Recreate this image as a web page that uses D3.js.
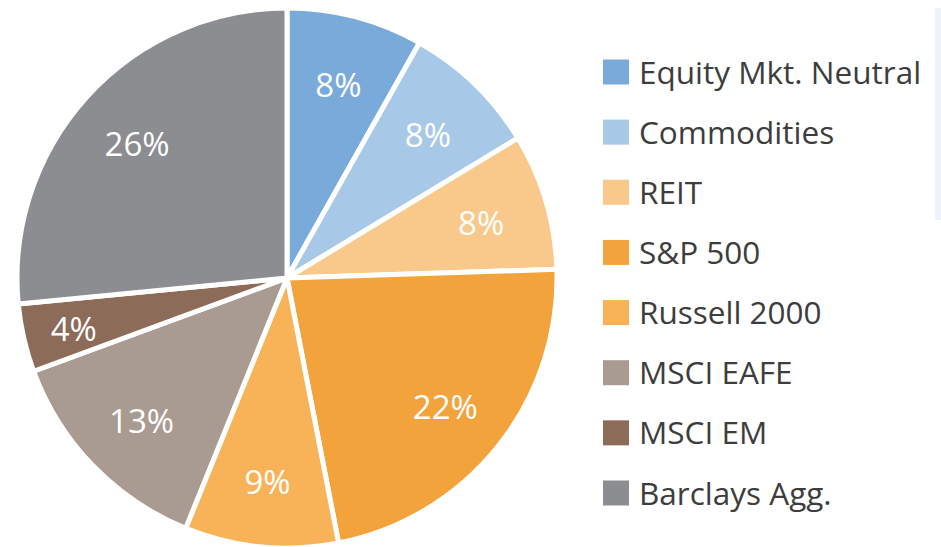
<!DOCTYPE html>
<html>
<head>
<meta charset="utf-8">
<script src="https://cdn.jsdelivr.net/npm/d3@7"></script>
<style>
  html, body { margin: 0; padding: 0; background: #ffffff; }
  svg { display: block; }
</style>
</head>
<body>
<svg id="chart" width="941" height="547"></svg>
<script>
const categories = ["Equity Mkt. Neutral", "Commodities", "REIT", "S&P 500", "Russell 2000", "MSCI EAFE", "MSCI EM", "Barclays Agg."];
const values = [8, 8, 8, 22, 9, 13, 4, 26];
const labels = ["8%", "8%", "8%", "22%", "9%", "13%", "4%", "26%"];
const colors = ["#7aaad9", "#a8c8e8", "#f8c98a", "#f2a33c", "#f8b258", "#a99b91", "#8d6b59", "#8b8d90"];

const svg = d3.select("#chart");
const cx = 287, cy = 278, R = 270;

// faint panel edge on the right
svg.append("rect").attr("x", 935).attr("y", 8).attr("width", 6).attr("height", 212).attr("fill", "#eef2fa");

const pie = d3.pie().value(d => d).sort(null);
const arcs = pie(values);
const arc = d3.arc().innerRadius(0).outerRadius(R);

const g = svg.append("g").attr("transform", `translate(${cx},${cy})`);
g.selectAll("path.slice")
  .data(arcs)
  .join("path")
  .attr("class", "slice")
  .attr("d", arc)
  .attr("fill", (d, i) => colors[i])
  .attr("stroke", "#ffffff")
  .attr("stroke-width", 5)
  .attr("stroke-linejoin", "round");

const labelArc = d3.arc().innerRadius(R * 0.75).outerRadius(R * 0.75);
const smallArc = d3.arc().innerRadius(R * 0.81).outerRadius(R * 0.81);

g.selectAll("text.pct")
  .data(arcs)
  .join("text")
  .attr("class", "pct")
  .attr("transform", d => `translate(${(d.value < 5 ? smallArc : labelArc).centroid(d)})`)
  .attr("text-anchor", "middle")
  .attr("dominant-baseline", "central")
  .attr("dy", 2)
  .attr("font-family", "'Open Sans', sans-serif")
  .attr("font-size", 33)
  .attr("fill", "#ffffff")
  .text((d, i) => labels[i]);

// legend
const legY = d3.scalePoint().domain(categories).range([72, 493]);
const leg = svg.append("g");
const items = leg.selectAll("g.item").data(categories).join("g")
  .attr("class", "item")
  .attr("transform", d => `translate(603,${legY(d)})`);
items.append("rect")
  .attr("x", 0).attr("y", -12.5)
  .attr("width", 26).attr("height", 25)
  .attr("fill", (d, i) => colors[i]);
items.append("text")
  .attr("x", 36)
  .attr("y", -1)
  .attr("dominant-baseline", "central")
  .attr("font-family", "'Open Sans', sans-serif")
  .attr("font-size", 31.5)
  .attr("fill", "#3d3d3d")
  .text(d => d);
</script>
</body>
</html>
